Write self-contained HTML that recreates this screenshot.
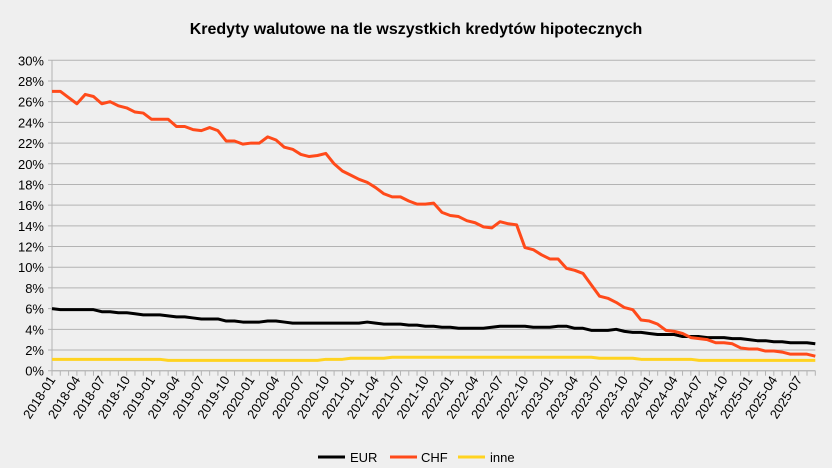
<!DOCTYPE html>
<html><head><meta charset="utf-8"><style>
body{margin:0;background:#efefef;}
svg{display:block;font-family:"Liberation Sans",sans-serif;}
</style></head><body>
<svg id="chart" width="832" height="468">
<rect width="832" height="468" fill="#efefef"/>
<text x="416" y="34" text-anchor="middle" font-size="16" font-weight="bold">Kredyty walutowe na tle wszystkich kredytów hipotecznych</text>
<g id="grid"></g><g id="series"></g><g id="xaxis"></g>
<g>
<line x1="318" y1="457" x2="345" y2="457" stroke="#000" stroke-width="3"/><text x="350" y="462" font-size="13">EUR</text>
<line x1="390" y1="457" x2="417" y2="457" stroke="#ff4a1a" stroke-width="3"/><text x="421" y="462" font-size="13">CHF</text>
<line x1="458" y1="457" x2="485" y2="457" stroke="#ffd320" stroke-width="3"/><text x="490" y="462" font-size="13">inne</text>
</g>
</svg>
<script>
const startYear=2018, startMonth=1;
const chf=[27.0,27.0,26.4,25.8,26.7,26.5,25.8,26.0,25.6,25.4,25.0,24.9,
24.3,24.3,24.3,23.6,23.6,23.3,23.2,23.5,23.2,22.2,22.2,21.9,
22.0,22.0,22.6,22.3,21.6,21.4,20.9,20.7,20.8,21.0,20.0,19.3,
18.9,18.5,18.2,17.7,17.1,16.8,16.8,16.4,16.1,16.1,16.2,15.3,
15.0,14.9,14.5,14.3,13.9,13.8,14.4,14.2,14.1,11.9,11.7,11.2,
10.8,10.8,9.9,9.7,9.4,8.3,7.2,7.0,6.6,6.1,5.9,4.9,
4.8,4.5,3.9,3.8,3.6,3.2,3.1,3.0,2.7,2.7,2.6,2.2,
2.1,2.1,1.9,1.9,1.8,1.6,1.6,1.6,1.4];
const eur=[6.0,5.9,5.9,5.9,5.9,5.9,5.7,5.7,5.6,5.6,5.5,5.4,
5.4,5.4,5.3,5.2,5.2,5.1,5.0,5.0,5.0,4.8,4.8,4.7,
4.7,4.7,4.8,4.8,4.7,4.6,4.6,4.6,4.6,4.6,4.6,4.6,
4.6,4.6,4.7,4.6,4.5,4.5,4.5,4.4,4.4,4.3,4.3,4.2,
4.2,4.1,4.1,4.1,4.1,4.2,4.3,4.3,4.3,4.3,4.2,4.2,
4.2,4.3,4.3,4.1,4.1,3.9,3.9,3.9,4.0,3.8,3.7,3.7,
3.6,3.5,3.5,3.5,3.3,3.3,3.3,3.2,3.2,3.2,3.1,3.1,
3.0,2.9,2.9,2.8,2.8,2.7,2.7,2.7,2.6];
const inne=[1.1,1.1,1.1,1.1,1.1,1.1,1.1,1.1,1.1,1.1,1.1,1.1,
1.1,1.1,1.0,1.0,1.0,1.0,1.0,1.0,1.0,1.0,1.0,1.0,
1.0,1.0,1.0,1.0,1.0,1.0,1.0,1.0,1.0,1.1,1.1,1.1,
1.2,1.2,1.2,1.2,1.2,1.3,1.3,1.3,1.3,1.3,1.3,1.3,
1.3,1.3,1.3,1.3,1.3,1.3,1.3,1.3,1.3,1.3,1.3,1.3,
1.3,1.3,1.3,1.3,1.3,1.3,1.2,1.2,1.2,1.2,1.2,1.1,
1.1,1.1,1.1,1.1,1.1,1.1,1.0,1.0,1.0,1.0,1.0,1.0,
1.0,1.0,1.0,1.0,1.0,1.0,1.0,1.0,1.0];
const yTicks=[0,2,4,6,8,10,12,14,16,18,20,22,24,26,28,30];

const NS="http://www.w3.org/2000/svg";
const L=52,R=815.3,T=60.3,B=370.7,yMax=30;
const n=chf.length;
const xs=i=>L+i*(R-L)/(n-1);
const ys=v=>B-v/yMax*(B-T);
function mk(tag,attrs,parent){const e=document.createElementNS(NS,tag);for(const k in attrs)e.setAttribute(k,attrs[k]);parent.appendChild(e);return e;}
const grid=document.getElementById('grid'),ser=document.getElementById('series'),xa=document.getElementById('xaxis');
yTicks.forEach(t=>{
 const ln=mk('line',{x1:L-4,x2:R,y1:ys(t),y2:ys(t),stroke:'#b3b3b3','stroke-width':1},grid);
 
 
 const tx=mk('text',{x:L-8,y:ys(t)+5,'text-anchor':'end','font-size':13,fill:'#000'},grid);
 tx.textContent=t+'%';
 
 
});
mk('line',{x1:L,x2:L,y1:T,y2:B,stroke:'#b3b3b3'},grid);
mk('line',{x1:L,x2:R,y1:B,y2:B,stroke:'#b3b3b3'},grid);
for(let i=0;i<n;i++){
 mk('line',{x1:xs(i),x2:xs(i),y1:B,y2:B+5,stroke:'#b3b3b3'},xa);
 const m=(startMonth-1+i)%12+1, y=startYear+Math.floor((startMonth-1+i)/12);
 if((m-1)%3===0){
  const lab=y+'-'+String(m).padStart(2,'0');
  const ax=xs(i)+4, ay=B+9;
  const tx=mk('text',{x:ax,y:ay,'text-anchor':'end','font-size':13,transform:`rotate(-57 ${ax} ${ay})`},xa);
  tx.textContent=lab;
  
  
 }
}
function line(data,color,name){
 const p=mk('polyline',{points:data.map((v,i)=>xs(i)+','+ys(v)).join(' '),fill:'none',stroke:color,'stroke-width':3,'stroke-linejoin':'round'},ser);
 
 
}
line(inne,'#ffd320','series-inne');
line(eur,'#000000','series-eur');
line(chf,'#ff4a1a','series-chf');
</script>
</body></html>
